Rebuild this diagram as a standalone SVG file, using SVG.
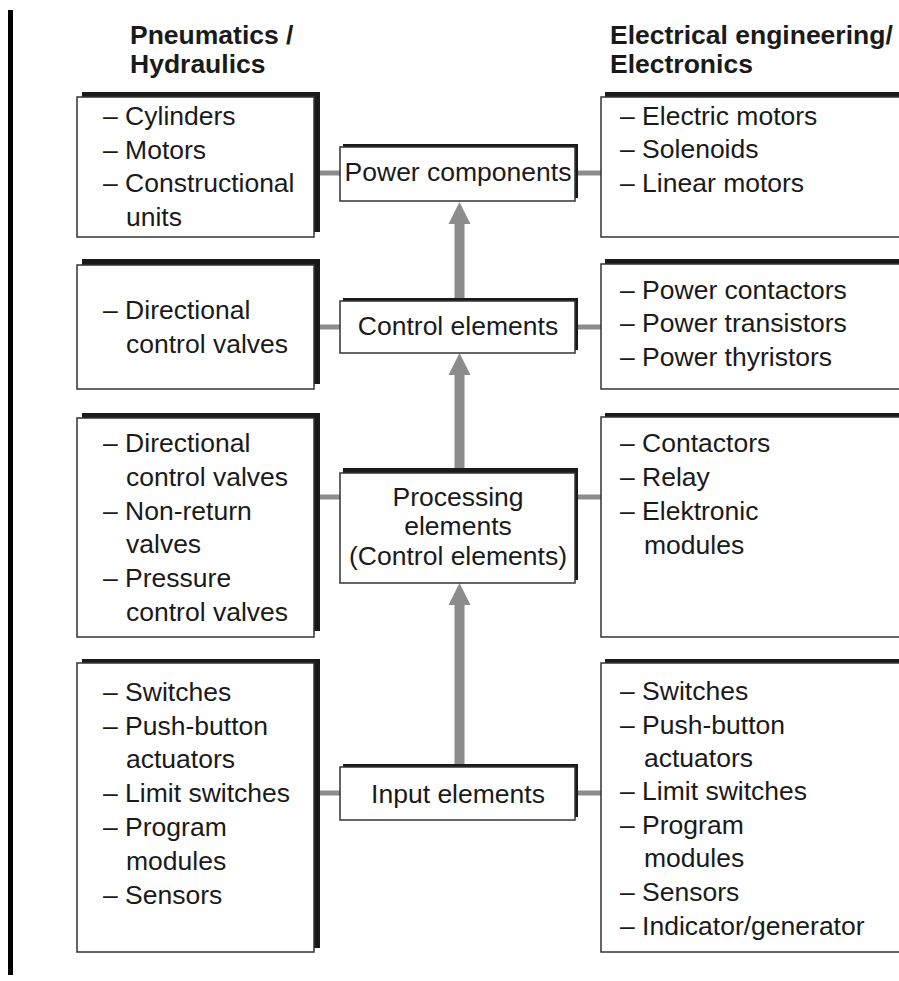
<svg xmlns="http://www.w3.org/2000/svg" width="899" height="981" viewBox="0 0 899 981">
<style>
text{font-family:"Liberation Sans",Arial,sans-serif;font-size:26.5px;fill:#1a1a1a}
.h{font-weight:bold}
.c{text-anchor:middle}
.sh{fill:#1a1a1a}
.bx{fill:#fff;stroke:#333;stroke-width:1.5}
.cn{fill:#8c8c8c}
</style>
<rect x="8" y="10" width="5" height="965" fill="#000"/>
<g id="header-left"><text class="h" x="130" y="44">Pneumatics /</text><text class="h" x="130" y="73">Hydraulics</text></g>
<g id="header-right"><text class="h" x="610" y="44">Electrical engineering/</text><text class="h" x="610" y="73">Electronics</text></g>

<g id="connectors">
<rect class="cn" x="320" y="170.5" width="20" height="5"/>
<rect class="cn" x="576" y="170.5" width="25" height="5"/>
<rect class="cn" x="320" y="324.5" width="20" height="5"/>
<rect class="cn" x="576" y="324.5" width="25" height="5"/>
<rect class="cn" x="320" y="494.5" width="20" height="5"/>
<rect class="cn" x="576" y="494.5" width="25" height="5"/>
<rect class="cn" x="320" y="790.5" width="20" height="5"/>
<rect class="cn" x="576" y="790.5" width="25" height="5"/>
<rect class="cn" x="454.5" y="223" width="10" height="76"/>
<polygon class="cn" points="448.5,224 470.5,224 459.5,202"/>
<rect class="cn" x="454.5" y="374" width="10" height="96"/>
<polygon class="cn" points="448.5,375 470.5,375 459.5,353"/>
<rect class="cn" x="454.5" y="604" width="10" height="161"/>
<polygon class="cn" points="448.5,605 470.5,605 459.5,583"/>
</g>

<g id="pn-power">
<rect class="sh" x="82" y="92" width="238" height="140"/>
<rect class="bx" x="77" y="97" width="237" height="140"/>
<text x="103" y="125">– Cylinders</text>
<text x="103" y="159">– Motors</text>
<text x="103" y="192">– Constructional</text>
<text x="126" y="226">units</text>
</g>
<g id="pn-control">
<rect class="sh" x="82" y="259" width="238" height="125"/>
<rect class="bx" x="77" y="265" width="237" height="124"/>
<text x="103" y="319">– Directional</text>
<text x="126" y="353">control valves</text>
</g>
<g id="pn-processing">
<rect class="sh" x="82" y="413" width="238" height="218"/>
<rect class="bx" x="77" y="418" width="237" height="219"/>
<text x="103" y="452">– Directional</text>
<text x="126" y="486">control valves</text>
<text x="103" y="520">– Non-return</text>
<text x="126" y="553">valves</text>
<text x="103" y="587">– Pressure</text>
<text x="126" y="621">control valves</text>
</g>
<g id="pn-input">
<rect class="sh" x="82" y="659" width="238" height="289"/>
<rect class="bx" x="77" y="663" width="237" height="289"/>
<text x="103" y="701">– Switches</text>
<text x="103" y="735">– Push-button</text>
<text x="126" y="768">actuators</text>
<text x="103" y="802">– Limit switches</text>
<text x="103" y="836">– Program</text>
<text x="126" y="870">modules</text>
<text x="103" y="904">– Sensors</text>
</g>

<g id="power-components">
<rect class="sh" x="343" y="144" width="235" height="54"/>
<rect class="bx" x="340" y="147" width="235" height="54"/>
<text class="c" x="458" y="181">Power components</text>
</g>
<g id="control-elements">
<rect class="sh" x="343" y="298" width="235" height="52"/>
<rect class="bx" x="340" y="301" width="235" height="52"/>
<text class="c" x="458" y="335">Control elements</text>
</g>
<g id="processing-elements">
<rect class="sh" x="343" y="468" width="235" height="112"/>
<rect class="bx" x="340" y="473" width="235" height="110"/>
<text class="c" x="458" y="506">Processing</text>
<text class="c" x="458" y="535">elements</text>
<text class="c" x="458" y="565">(Control elements)</text>
</g>
<g id="input-elements">
<rect class="sh" x="343" y="764" width="235" height="53"/>
<rect class="bx" x="340" y="767" width="235" height="53"/>
<text class="c" x="458" y="803">Input elements</text>
</g>

<g id="el-power">
<rect class="sh" x="605" y="92" width="320" height="140"/>
<rect class="bx" x="601" y="97" width="320" height="140"/>
<text x="620" y="125">– Electric motors</text>
<text x="620" y="158">– Solenoids</text>
<text x="620" y="192">– Linear motors</text>
</g>
<g id="el-control">
<rect class="sh" x="605" y="259" width="320" height="125"/>
<rect class="bx" x="601" y="264" width="320" height="125"/>
<text x="620" y="299">– Power contactors</text>
<text x="620" y="332">– Power transistors</text>
<text x="620" y="366">– Power thyristors</text>
</g>
<g id="el-processing">
<rect class="sh" x="605" y="413" width="320" height="218"/>
<rect class="bx" x="601" y="417" width="320" height="220"/>
<text x="620" y="452">– Contactors</text>
<text x="620" y="486">– Relay</text>
<text x="620" y="520">– Elektronic</text>
<text x="644" y="554">modules</text>
</g>
<g id="el-input">
<rect class="sh" x="605" y="659" width="320" height="289"/>
<rect class="bx" x="601" y="663" width="320" height="289"/>
<text x="620" y="700">– Switches</text>
<text x="620" y="734">– Push-button</text>
<text x="644" y="767">actuators</text>
<text x="620" y="800">– Limit switches</text>
<text x="620" y="834">– Program</text>
<text x="644" y="867">modules</text>
<text x="620" y="901">– Sensors</text>
<text x="620" y="935">– Indicator/generator</text>
</g>
</svg>
